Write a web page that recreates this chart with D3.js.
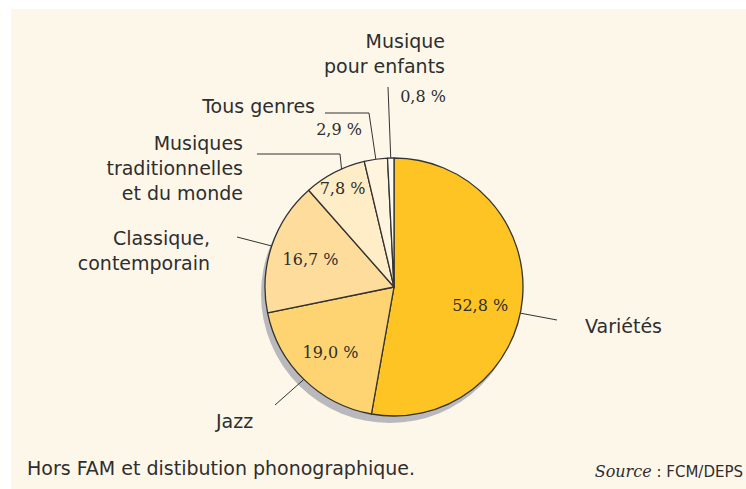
<!DOCTYPE html>
<html><head><meta charset="utf-8">
<script src="https://cdn.jsdelivr.net/npm/d3@7"></script>
<style>html,body{margin:0;padding:0;background:#fff;}svg{display:block;}</style>
</head><body>
<svg id="c" width="746" height="489"></svg>
<script>
// ---- data ----
const categories = ["Variétés","Jazz","Classique, contemporain","Musiques traditionnelles et du monde","Tous genres","Musique pour enfants"];
const values = [52.8, 19.0, 16.7, 7.8, 2.9, 0.8];
const valueLabels = ["52,8 %","19,0 %","16,7 %","7,8 %","2,9 %","0,8 %"];
const labelLines = [["Variétés"],["Jazz"],["Classique,","contemporain"],["Musiques","traditionnelles","et du monde"],["Tous genres"],["Musique","pour enfants"]];
const colors = ["#fec424","#fed472","#fedd9c","#feedc6","#fff4de","#fffaf1"];
const note = "Hors FAM et distibution phonographique.";
const sourceLabel = "Source";
const sourceText = " : FCM/DEPS";

// ---- layout (positions/styles only) ----
const W = 746, H = 489, cx = 394, cy = 287, R = 129;
const layout = [
  {frac:0.535, pts:[[557,320]], lx:585, ly:333, anchor:"start", vFrac:0.535, vR:88},
  {frac:0.5, pts:[[275,405]], lx:216, ly:428, anchor:"start", vFrac:0.5, vR:91},
  {frac:0.5, pts:[[237,237]], lx:210, ly:245, anchor:"end", vFrac:0.5, vR:88},
  {frac:0.62, pts:[[340,154],[257,154]], lx:243, ly:150, anchor:"end", vFrac:0.5, vR:112},
  {frac:0.5, pts:[[369,113],[325,113]], lx:315, ly:113, anchor:"end", vx:339, vy:135},
  {frac:0.5, pts:[[388,87]], lx:445, ly:48, anchor:"end", vx:423, vy:102}
];
const sans = "'DejaVu Sans', 'Noto Sans', sans-serif";
const serif = "'DejaVu Serif', 'Liberation Serif', serif";
const ink = "#2e2e2e";

const svg = d3.select("#c");
svg.append("rect").attr("x",11).attr("y",9).attr("width",W-11).attr("height",H-9).attr("fill","#fdf7ea");

const pie = d3.pie().sort(null).value(d=>d);
const arcs = pie(values);
const arc = d3.arc().innerRadius(0).outerRadius(R);

const g = svg.append("g").attr("transform",`translate(${cx},${cy})`);
g.append("circle").attr("cx",-4).attr("cy",7).attr("r",R).attr("fill","#b9b9bd");
g.selectAll("path.s").data(arcs).join("path").attr("class","s")
  .attr("d",arc).attr("fill",(d,i)=>colors[i]).attr("stroke","#333").attr("stroke-width",1.3).attr("stroke-linejoin","round");

function pt(d, f, r){
  const a = d.startAngle + (d.endAngle-d.startAngle)*f;
  return [cx + r*Math.sin(a), cy - r*Math.cos(a)];
}

arcs.forEach((d,i)=>{
  const L = layout[i];
  const pts = [pt(d, L.frac, R), ...L.pts];
  svg.append("path").attr("d", d3.line()(pts)).attr("fill","none").attr("stroke","#333").attr("stroke-width",1);
});

arcs.forEach((d,i)=>{
  const L = layout[i];
  const t = svg.append("text").attr("x",L.lx).attr("y",L.ly).attr("text-anchor",L.anchor)
    .attr("font-family",sans).attr("font-size",19).attr("fill",ink);
  labelLines[i].forEach((s,j)=>{
    t.append("tspan").attr("x",L.lx).attr("y",L.ly + j*25).text(s);
  });
});

arcs.forEach((d,i)=>{
  const L = layout[i];
  let x, y;
  if (L.vx !== undefined) { x = L.vx; y = L.vy; }
  else { const p = pt(d, L.vFrac, L.vR); x = p[0]; y = p[1] + 6; }
  svg.append("text").attr("x",x).attr("y",y).attr("text-anchor","middle")
    .attr("font-family",serif).attr("font-size",16).attr("fill",ink).text(valueLabels[i]);
});

svg.append("text").attr("x",27).attr("y",475).attr("font-family",sans).attr("font-size",19).attr("fill",ink).text(note);
const src = svg.append("text").attr("x",743).attr("y",477).attr("text-anchor","end").attr("font-size",15).attr("fill",ink);
src.append("tspan").attr("font-family",serif).attr("font-style","italic").attr("font-size",16).text(sourceLabel);
src.append("tspan").attr("font-family",sans).text(sourceText);
</script>
</body></html>
